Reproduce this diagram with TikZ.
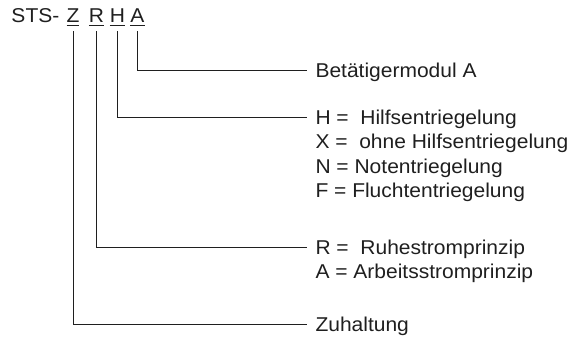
\documentclass[tikz,border=0pt]{standalone}
\usepackage{fontspec}
\setmainfont{Liberation Sans}[FakeStretch=1.05]
\usetikzlibrary{positioning}
\newcommand\codeletter[1]{\setbox0\hbox{#1}\rlap{\rule[-3pt]{\wd0}{1.3pt}}#1}
\begin{document}
\begin{tikzpicture}[x=1pt,y=1pt,black!88,line width=1pt,
  code node/.style={font=\fontsize{20}{23}\selectfont,anchor=base,inner sep=0pt,outer ysep=5pt},
  label node/.style={font=\fontsize{20}{23}\selectfont,anchor=west,inner xsep=8pt,inner ysep=0pt,
    text height=14.3pt,text depth=0pt},
  next line/.style={label node,below=9pt of #1.south west,anchor=north west}]
  \useasboundingbox (0,0) rectangle (579,-340);

  \node[code node,anchor=base west] (sts) at (11,-23) {STS-};
  \node[code node] (z) at (73,-23) {\codeletter{Z}};
  \node[code node] (r) at (96.5,-23) {\codeletter{R}};
  \node[code node] (h) at (117.5,-23) {\codeletter{H}};
  \node[code node] (a) at (137.5,-23) {\codeletter{A}};

  \node[label node] (modul) at (307,-70) {Betätigermodul A};
  \node[label node] (hilfs) at (307,-117.5) {H =\ \ Hilfsentriegelung};
  \node[next line=hilfs] (ohne) {X =\ \ ohne Hilfsentriegelung};
  \node[next line=ohne] (not) {N = Notentriegelung};
  \node[next line=not] (flucht) {F = Fluchtentriegelung};
  \node[label node] (ruhe) at (307,-247.5) {R =\ \ Ruhestromprinzip};
  \node[next line=ruhe] (arbeit) {A = Arbeitsstromprinzip};
  \node[label node] (zuhalt) at (307,-324) {Zuhaltung};

  \draw (a.south) |- (modul.west);
  \draw (h.south) |- (hilfs.west);
  \draw (r.south) |- (ruhe.west);
  \draw (z.south) |- (zuhalt.west);
\end{tikzpicture}
\end{document}
